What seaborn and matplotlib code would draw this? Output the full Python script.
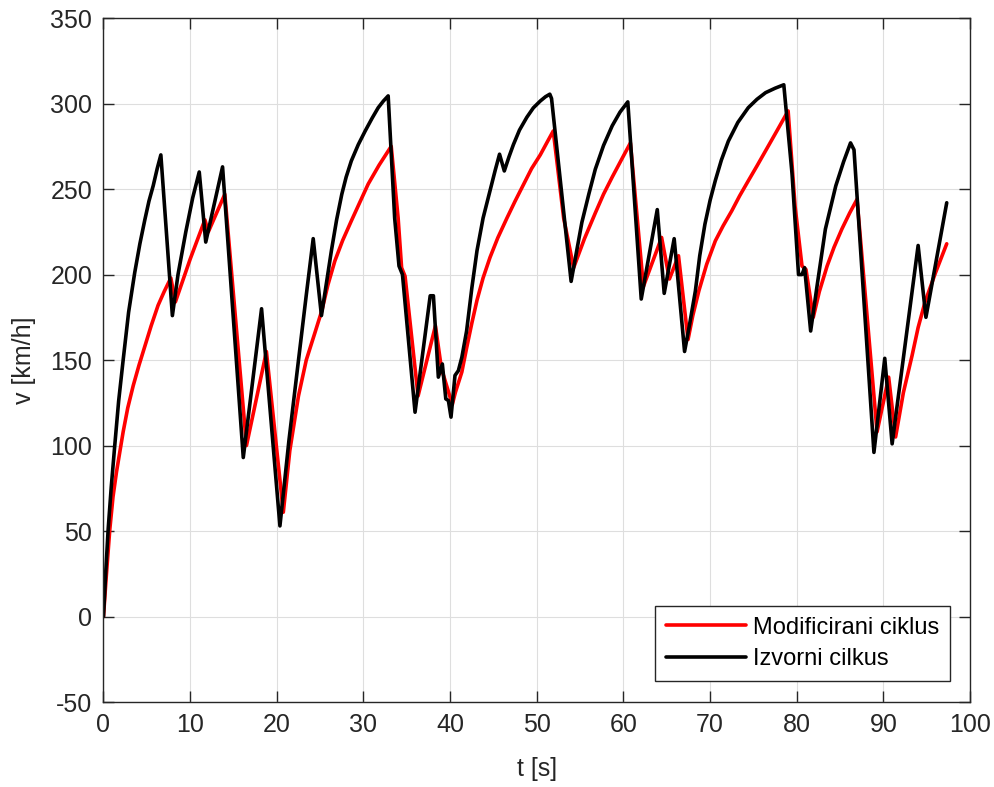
import numpy as np
import pandas as pd
import matplotlib
matplotlib.use("Agg")
import matplotlib.pyplot as plt
import seaborn as sns

# Izvorni cilkus (black)
t_izv = [0, 0.25, 0.54, 0.9, 1.3, 1.75, 2.27, 2.9, 3.6, 4.2, 4.77, 5.25, 5.74, 6.2, 6.62,
         7.95, 8.6, 9.5, 10.3, 11.05, 11.8, 13.74,
         16.13, 18.24, 20.36, 21.4, 22.48, 23.4, 24.2, 25.15, 26.3, 26.9, 27.5, 28.0,
         28.6, 29.4, 30.2, 31.0, 31.7, 32.3, 32.85,
         33.6, 34.1, 34.5, 35.95, 37.7, 38.07, 38.64, 39.1, 39.5, 39.8, 40.1, 40.56,
         40.95, 41.35, 41.9, 42.5, 43.1, 43.8, 44.6, 45.2, 45.7, 46.25, 46.8, 47.3, 48.0,
         48.85, 49.6, 50.4, 51.0, 51.5, 51.7,
         53.96, 54.5, 55.2, 56.0, 56.75, 57.7, 58.7, 59.6, 60.5, 62.05, 63.9, 64.7, 65.85,
         67.05, 67.6, 68.3, 68.8, 69.4, 70.0, 70.6, 71.3, 72.1, 73.2, 74.4, 75.4, 76.4,
         77.5, 78.5, 79.45, 80.2, 80.6, 80.9, 81.6, 82.3, 83.3, 84.5, 85.4,
         86.2, 86.6, 88.9, 90.15, 91.0, 94.0, 94.9, 97.3]
v_izv = [0, 25, 51, 76, 100, 126, 150, 178, 201, 218, 232, 243, 252, 262, 270,
         176, 200, 225, 245, 260, 219, 263,
         93, 180, 53, 103, 149, 188, 221, 176, 214, 232, 247, 257,
         266.5, 276, 284, 291.5, 297.6, 301.5, 304.5,
         233, 205, 200, 119.5, 187.6, 187.6, 140, 147.7, 127.3, 126.3, 116.6, 141,
         143.8, 151.6, 167, 192, 214, 233, 249, 261, 270.4, 260.6, 269, 276, 284.5,
         292, 297.5, 301.5, 304, 305.5, 303,
         196, 211, 230.5, 247, 261.6, 275.5, 287, 295, 301, 185.7, 238, 189, 221,
         155, 170, 190.5, 211, 229.5, 243.5, 255, 267, 278, 289, 297.6, 302.5, 306.4,
         309, 311, 259, 200, 200, 204, 167, 192, 226.6, 251.9, 266,
         277, 273, 96, 151, 101, 217, 175, 242]

# Modificirani ciklus (red)
t_mod = [0, 0.3, 0.73, 1.1, 1.5, 2.27, 2.8, 3.43, 4.1, 4.77, 5.5, 6.3, 7.0, 7.77,
         8.3, 10.0, 11.7, 12.1, 14.0,
         16.5, 18.8, 20.75, 21.5, 22.5, 23.4, 24.4, 25.2, 25.9, 26.7, 27.6, 28.6, 29.6,
         30.55, 31.8, 33.2, 34.0, 34.4,
         34.8, 36.3, 38.3, 39.0, 40.25, 40.6, 41.35, 41.9, 42.5, 43.1, 43.8, 44.6, 45.5,
         46.55, 47.5, 48.5, 49.4, 50.4, 51.2,
         51.9, 53.1, 54.25, 55.5, 56.75, 57.7, 58.7, 59.8, 60.8, 62.3, 64.4, 65.3, 66.35,
         67.45, 68.0, 68.7, 69.6,
         70.6, 71.5, 72.5, 73.4, 74.4, 75.4, 76.4, 77.7, 79.0, 79.8, 80.6, 81.06, 81.9,
         82.6, 83.5, 84.3, 85.2, 86.1, 86.95,
         89.26, 90.6, 91.4, 92.3, 93.3, 94.0, 94.8, 96.0, 97.3]
v_mod = [0, 22, 51, 70, 84.5, 108, 122, 135, 147, 158, 170, 182, 190, 198,
         184, 209, 232, 225, 247,
         100, 155, 61, 97, 129, 150, 166, 179, 194, 208, 220, 231.4, 242.5,
         253, 264, 275, 233, 204,
         199, 129, 170, 145, 124, 131, 143, 157, 171.5, 185, 198, 210, 221.5,
         233, 243, 253, 262, 270, 277.5,
         284, 233, 204, 221, 236, 247, 257, 267.5, 277, 193, 221.7, 197.4, 211,
         162, 176, 190.5, 206,
         219.7, 228.5, 237.3, 246, 254.8, 263.5, 272.4, 284, 295.7, 240, 205, 203, 175,
         190, 205, 216, 226.6, 236, 244,
         108, 140, 105, 131, 152.6, 169, 184, 201, 218]

series_names = ["Modificirani ciklus", "Izvorni cilkus"]
x_ticks = list(range(0, 101, 10))
y_ticks = list(range(-50, 351, 50))

df = pd.concat([
    pd.DataFrame({"t": t_mod, "v": v_mod, "serija": series_names[0]}),
    pd.DataFrame({"t": t_izv, "v": v_izv, "serija": series_names[1]}),
], ignore_index=True)

sns.set_theme(style="white")
plt.rcParams["font.family"] = ["Liberation Sans", "DejaVu Sans"]
plt.rcParams["axes.unicode_minus"] = False

fig = plt.figure(figsize=(9.95, 7.87), dpi=100)
ax = fig.add_axes([0.104, 0.108, 0.871, 0.869])

sns.lineplot(data=df, x="t", y="v", hue="serija", hue_order=series_names,
             palette={series_names[0]: "#ff0000", series_names[1]: "#000000"},
             estimator=None, sort=False, linewidth=2.6, ax=ax)

ax.set_xlim(0, 100)
ax.set_ylim(-50, 350)
ax.set_xticks(x_ticks)
ax.set_yticks(y_ticks)
ax.grid(True, color="#dedede", linewidth=0.8)
ax.set_axisbelow(True)

axcol = "#262626"
for s in ax.spines.values():
    s.set_visible(True)
    s.set_color(axcol)
    s.set_linewidth(1.0)
ax.tick_params(direction="in", length=8, width=1.0, colors=axcol,
               labelsize=18, top=True, right=True, bottom=True, left=True,
               labelcolor=axcol, pad=8)
ax.set_xlabel("t [s]", fontsize=18, color=axcol, labelpad=14)
ax.set_ylabel("v [km/h]", fontsize=18, color=axcol, labelpad=10)

leg = ax.legend(loc="lower right", bbox_to_anchor=(0.977, 0.031),
                fontsize=17, frameon=True, fancybox=False, handlelength=3.4,
                borderpad=0.45, labelspacing=0.4, handletextpad=0.3,
                borderaxespad=0)
leg.get_frame().set_edgecolor(axcol)
leg.get_frame().set_linewidth(1.0)
leg.get_frame().set_alpha(1)
for line in leg.get_lines():
    line.set_linewidth(2.6)
for txt in leg.get_texts():
    txt.set_color("#000000")

fig.savefig("out.png", dpi=100)
